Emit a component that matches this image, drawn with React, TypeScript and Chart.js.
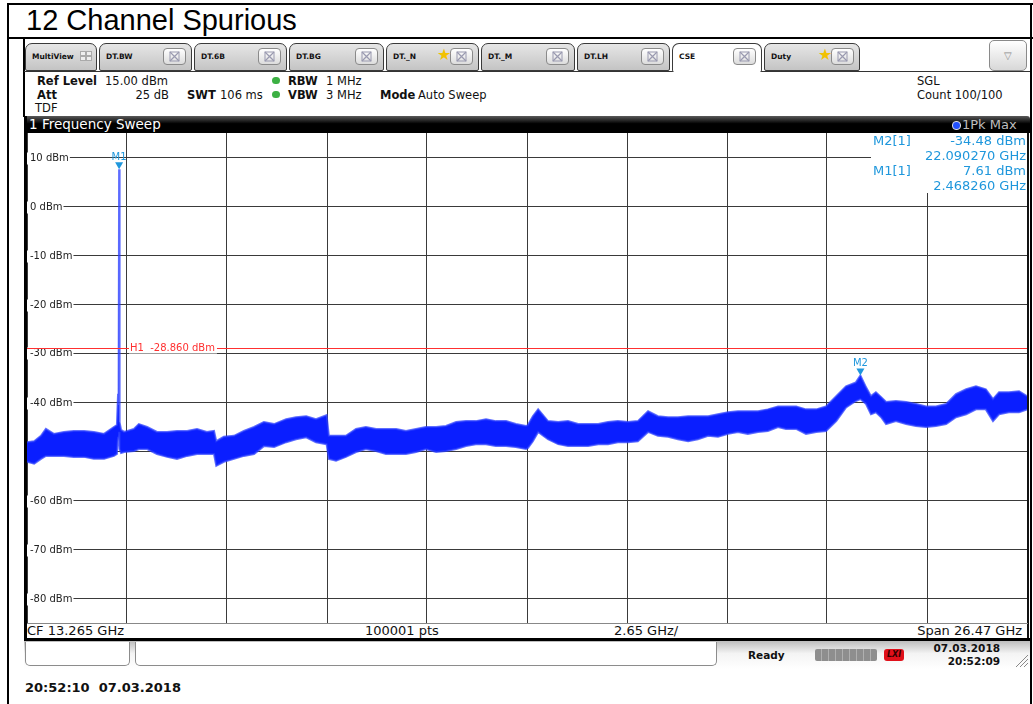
import React, { useEffect, useRef } from 'react';
import { Chart, registerables } from 'chart.js';
Chart.register(...registerables);

// ---------- data ----------
const centerFreqGHz = 13.265;
const spanGHz = 26.47;
const refLevelDbm = 15;
const bottomLevelDbm = -85;
const levelTicksDbm = [10, 0, -10, -20, -30, -40, -50, -60, -70, -80];
const lineH1Dbm = -28.86;
const markerNames = ['M1', 'M2'];
const markerFreqGHz = [2.46826, 22.09027];
const markerLevelDbm = [7.61, -34.48];

const freqGHz = [
  0.03, 0.22, 0.4, 0.53, 0.74, 1.01, 1.27, 1.54, 1.8, 2.07, 2.33, 2.41, 2.44, 2.455, 2.468, 2.481, 2.52,
  2.6, 2.86, 2.99, 3.21, 3.47, 3.74, 4.0, 4.27, 4.53, 4.79, 4.98, 5.04, 5.24, 5.51, 5.77, 6.04, 6.3,
  6.57, 6.89, 7.15, 7.42, 7.68, 7.96, 8.02, 8.21, 8.47, 8.74, 9.0, 9.27, 9.53, 9.8, 10.06, 10.33, 10.59,
  10.86, 11.12, 11.39, 11.65, 11.91, 12.18, 12.44, 12.71, 12.97, 13.24, 13.29, 13.42, 13.56, 13.82,
  14.09, 14.35, 14.62, 14.88, 15.15, 15.41, 15.67, 15.94, 16.2, 16.47, 16.73, 17.0, 17.26, 17.53, 17.79,
  18.06, 18.32, 18.59, 18.85, 19.11, 19.38, 19.64, 19.91, 20.12, 20.39, 20.65, 20.92, 21.18, 21.45,
  21.71, 21.97, 22.09, 22.24, 22.37, 22.5, 22.64, 22.77, 23.03, 23.3, 23.56, 23.83, 24.09, 24.36, 24.62,
  24.89, 25.15, 25.41, 25.6, 25.76, 26.02, 26.29, 26.5,
];
const maxDbm = [
  -48.1, -47.9, -46.8, -45.4, -46.4, -46.0, -45.8, -45.8, -46.0, -46.4, -45.0, -44.6, -38.2, -40.5, 7.61, -44.0, -45.6,
  -46.0, -45.4, -44.4, -45.0, -46.0, -46.0, -45.8, -45.8, -45.4, -46.0, -45.8, -47.9, -47.0, -46.8, -45.8, -45.0, -44.0,
  -44.4, -43.4, -43.0, -42.8, -43.4, -42.6, -46.8, -46.8, -46.8, -45.4, -45.0, -45.4, -45.4, -45.4, -45.8, -45.4, -45.0,
  -45.0, -44.8, -44.0, -43.8, -43.8, -43.4, -43.8, -43.8, -44.4, -44.8, -44.6, -42.8, -41.4, -43.8,
  -44.0, -43.8, -44.4, -44.4, -44.4, -44.0, -43.8, -44.0, -43.8, -41.8, -42.8, -43.0, -43.0, -42.8, -42.8,
  -42.8, -42.4, -42.0, -41.8, -41.8, -41.8, -41.4, -40.8, -40.8, -40.8, -41.4, -41.4, -40.8, -38.7,
  -36.7, -35.9, -34.48, -36.9, -38.7, -37.9, -38.9, -39.9, -39.7, -39.9, -40.3, -40.8, -40.8, -40.3, -38.3,
  -37.3, -36.7, -37.3, -39.3, -37.9, -37.9, -37.7, -38.7,
];
const minDbm = [
  -52.1, -52.5, -51.5, -50.9, -50.9, -50.9, -51.1, -51.1, -51.5, -51.5, -50.9, -50.5, -47.0, -48.0, -46.0, -49.5, -50.3,
  -50.1, -49.9, -49.5, -49.5, -50.5, -51.1, -51.5, -50.9, -50.5, -50.5, -50.5, -52.9, -52.1, -51.5, -50.9, -50.5, -48.9,
  -49.1, -48.1, -47.5, -47.1, -48.1, -48.5, -51.5, -51.9, -51.1, -50.1, -49.5, -49.9, -50.5, -50.5, -50.5, -50.1, -49.5,
  -50.1, -49.9, -49.5, -48.9, -48.5, -48.5, -48.9, -48.9, -49.1, -49.5, -49.3, -47.9, -46.0, -47.5,
  -48.5, -48.9, -48.9, -48.9, -48.5, -48.5, -48.1, -48.1, -47.9, -46.0, -46.8, -47.0, -47.5, -47.9, -47.5,
  -46.8, -47.0, -46.4, -46.0, -46.4, -46.0, -45.8, -45.0, -45.4, -45.4, -46.4, -46.0, -45.8, -43.8,
  -41.0, -39.7, -39.3, -40.3, -42.4, -42.0, -43.0, -44.4, -43.8, -44.4, -44.8, -45.0, -44.8, -44.4, -43.0,
  -42.4, -41.4, -41.4, -43.8, -42.4, -42.0, -42.0, -41.4,
];

const tabLabels = ['MultiView', 'DT.BW', 'DT.6B', 'DT.BG', 'DT._N', 'DT._M', 'DT.LH', 'CSE', 'Duty'];

// ---------- styling ----------
const TRACE = 'rgb(10,30,255)';
const TRACE_EDGE = 'rgba(40,60,255,0.75)';
const GRID = '#3a3a3a';
const MARK = '#1f97dc';
const H1RED = '#ff3030';
const UI = '"DejaVu Sans", Verdana, sans-serif';

const startF = centerFreqGHz - spanGHz / 2;
const stopF = centerFreqGHz + spanGHz / 2;

const overlay = {
  id: 'saOverlay',
  beforeDatasetsDraw(chart: any) {
    const { ctx, scales } = chart;
    const y = scales.y;
    ctx.save();
    ctx.font = `10px ${UI}`;
    ctx.textBaseline = 'middle';
    levelTicksDbm.forEach((v) => {
      const py = Math.round(y.getPixelForValue(v)) + 0.5;
      const t = `${v} dBm`;
      const w = ctx.measureText(t).width;
      ctx.fillStyle = '#fff';
      ctx.fillRect(0, py - 6, w + 4, 12);
      ctx.fillStyle = '#222';
      ctx.fillText(t, 3, py);
    });
    ctx.restore();
  },
  afterDatasetsDraw(chart: any) {
    const { ctx, scales, chartArea } = chart;
    const x = scales.x;
    const y = scales.y;
    ctx.save();
    const hy = Math.round(y.getPixelForValue(lineH1Dbm)) + 0.5;
    ctx.strokeStyle = H1RED;
    ctx.lineWidth = 1;
    ctx.beginPath();
    ctx.moveTo(chartArea.left, hy);
    ctx.lineTo(chartArea.right, hy);
    ctx.stroke();
    ctx.font = `10px ${UI}`;
    ctx.textBaseline = 'middle';
    const lbl = `H1  ${lineH1Dbm.toFixed(3)} dBm`;
    const lw = ctx.measureText(lbl).width;
    ctx.fillStyle = '#fff';
    ctx.fillRect(102, hy - 5, lw + 3, 10);
    ctx.fillStyle = H1RED;
    ctx.fillText(lbl, 103, hy);
    markerNames.forEach((n, i) => {
      const px = x.getPixelForValue(markerFreqGHz[i]);
      const py = y.getPixelForValue(markerLevelDbm[i]);
      ctx.fillStyle = MARK;
      ctx.beginPath();
      ctx.moveTo(px - 4, py - 7);
      ctx.lineTo(px + 4, py - 7);
      ctx.lineTo(px, py);
      ctx.closePath();
      ctx.fill();
      ctx.font = `10px ${UI}`;
      ctx.textAlign = 'center';
      ctx.textBaseline = 'alphabetic';
      ctx.fillText(n, px, py - 9);
    });
    ctx.restore();
  },
};

function SpectrumChart() {
  const ref = useRef<HTMLCanvasElement>(null);
  useEffect(() => {
    if (!ref.current) return;
    const hi = freqGHz.map((f, i) => ({ x: f, y: maxDbm[i] }));
    const lo = freqGHz.map((f, i) => ({ x: f, y: minDbm[i] }));
    const xTicks = Array.from({ length: 11 }, (_, i) => startF + (i * spanGHz) / 10);
    const chart = new Chart(ref.current, {
      type: 'line',
      data: {
        datasets: [
          { data: hi, borderColor: TRACE_EDGE, borderWidth: 2, pointRadius: 0, fill: false, tension: 0 },
          { data: lo, borderColor: TRACE_EDGE, borderWidth: 2, pointRadius: 0, fill: '-1', backgroundColor: TRACE, tension: 0 },
        ],
      } as any,
      options: {
        animation: false,
        responsive: false,
        maintainAspectRatio: false,
        layout: { padding: 0 },
        plugins: { legend: { display: false }, tooltip: { enabled: false } },
        scales: {
          x: {
            type: 'linear',
            min: startF,
            max: stopF,
            afterBuildTicks: (s: any) => {
              s.ticks = xTicks.map((v) => ({ value: v }));
            },
            ticks: { display: false },
            grid: { color: GRID, lineWidth: 1, drawTicks: false },
            border: { display: false },
          },
          y: {
            type: 'linear',
            min: bottomLevelDbm,
            max: refLevelDbm,
            afterBuildTicks: (s: any) => {
              s.ticks = levelTicksDbm.map((v) => ({ value: v }));
            },
            ticks: { display: false },
            grid: { color: GRID, lineWidth: 1, drawTicks: false },
            border: { display: false },
          },
        },
      } as any,
      plugins: [overlay],
    });
    return () => chart.destroy();
  }, []);
  return <canvas ref={ref} width={1000} height={490} style={{ position: 'absolute', left: 27, top: 133, width: 1000, height: 490 }} />;
}

const abs = (s: React.CSSProperties): React.CSSProperties => ({ position: 'absolute', ...s });

function CloseBox({ right }: { right: number }) {
  return (
    <div style={abs({ right, top: 4, width: 21, height: 15, border: '1px solid #8a8a8a', borderRadius: 4, background: 'linear-gradient(#ffffff,#dcdcdc)' })}>
      <svg width="21" height="15" style={{ display: 'block' }}>
        <rect x="6" y="3" width="9" height="9" fill="none" stroke="#9a9ab0" strokeWidth="1" />
        <path d="M6 3 L15 12 M15 3 L6 12" stroke="#9a9ab0" strokeWidth="1.2" />
      </svg>
    </div>
  );
}

function Tabs() {
  const lefts = [25, 99, 194, 289, 386, 481, 577, 672, 764];
  const widths = [74, 95, 95, 97, 95, 96, 95, 92, 98];
  return (
    <>
      <div style={abs({ left: 24, top: 71, width: 1006, height: 1, background: '#333' })} />
      {tabLabels.map((t, i) => {
        const active = t === 'CSE';
        const star = t === 'DT._N' || t === 'Duty';
        return (
          <div
            key={t}
            style={abs({
              left: lefts[i],
              top: 43,
              width: widths[i] - 2,
              height: active ? 29 : 28,
              border: '1px solid #3a3a3a',
              borderBottom: active ? 'none' : '1px solid #3a3a3a',
              borderRadius: '7px 7px 2px 2px',
              background: active ? '#fff' : 'linear-gradient(#e6e6e6,#c4c4c4)',
              boxSizing: 'border-box',
            })}
          >
            <div style={abs({ left: 6, top: 8, font: `bold 7.5px ${UI}`, color: '#111', whiteSpace: 'nowrap' })}>{t}</div>
            {i === 0 ? (
              <svg width="12" height="10" style={{ position: 'absolute', right: 4, top: 7 }}>
                <rect x="0.5" y="0.5" width="5" height="4" fill="#eee" stroke="#aaa" />
                <rect x="6.5" y="0.5" width="5" height="4" fill="#eee" stroke="#aaa" />
                <rect x="0.5" y="5.5" width="5" height="4" fill="#eee" stroke="#aaa" />
                <rect x="6.5" y="5.5" width="5" height="4" fill="#eee" stroke="#aaa" />
              </svg>
            ) : (
              <CloseBox right={5} />
            )}
            {star && <div style={abs({ right: 27, top: 1, fontSize: 16, color: '#f2c100', lineHeight: '20px' })}>★</div>}
          </div>
        );
      })}
      <div style={abs({ left: 989, top: 40, width: 38, height: 31, border: '1px solid #8a8a8a', borderRadius: 5, boxSizing: 'border-box', background: 'linear-gradient(#ffffff,#d8d8d8)', textAlign: 'center', color: '#888', fontSize: 10, lineHeight: '29px' })}>▽</div>
    </>
  );
}

function T({ x, y, children, bold, size = 11.5, color = '#111', right }: any) {
  const st: React.CSSProperties = abs({ top: y - 8, font: `${bold ? 'bold ' : ''}${size}px ${UI}`, color, whiteSpace: 'pre', lineHeight: '16px' });
  if (right !== undefined) st.right = 1033 - right;
  else st.left = x;
  return <div style={st}>{children}</div>;
}

export default function App() {
  return (
    <div style={{ position: 'relative', width: 1033, height: 704, background: '#fff', overflow: 'hidden' }}>
      <style>{`body{margin:0}`}</style>
      <div style={abs({ left: 7, top: 3, width: 2, height: 704, background: '#000' })} />
      <div style={abs({ left: 7, top: 3, width: 1026, height: 2, background: '#000' })} />
      <div style={abs({ left: 7, top: 37, width: 1026, height: 2, background: '#000' })} />
      <div style={abs({ left: 1030, top: 3, width: 2, height: 704, background: '#000' })} />
      <div style={abs({ left: 26, top: 2, font: `29px "Liberation Sans", Arial, sans-serif`, color: '#000', lineHeight: '36px' })}>12 Channel Spurious</div>
      <div style={abs({ left: 23, top: 39, width: 2, height: 78, background: '#000' })} />

      <Tabs />

      <T x={37} y={81} bold>Ref Level</T>
      <T x={105} y={81}>15.00 dBm</T>
      <T x={37} y={95} bold>Att</T>
      <T right={169} y={95}>25 dB</T>
      <T x={187} y={95} bold>SWT</T>
      <T x={220} y={95}>106 ms</T>
      <div style={abs({ left: 272, top: 77, width: 8, height: 7, borderRadius: 4, background: '#3cb043' })} />
      <div style={abs({ left: 272, top: 91, width: 8, height: 7, borderRadius: 4, background: '#3cb043' })} />
      <T x={288} y={81} bold>RBW</T>
      <T x={326} y={81}>1 MHz</T>
      <T x={288} y={95} bold>VBW</T>
      <T x={326} y={95}>3 MHz</T>
      <T x={380} y={95} bold>Mode</T>
      <T x={418} y={95}>Auto Sweep</T>
      <T x={35} y={108}>TDF</T>
      <T x={917} y={81}>SGL</T>
      <T x={917} y={95}>Count 100/100</T>

      <div style={abs({ left: 24, top: 116, width: 1006, height: 17, background: 'linear-gradient(#5a5a5a,#000 45%)', borderRadius: '3px 3px 0 0' })} />
      <div style={abs({ left: 29, top: 116, font: `13.5px ${UI}`, color: '#fff', lineHeight: '17px' })}>1 Frequency Sweep</div>
      <div style={abs({ left: 952, top: 121, width: 7, height: 7, borderRadius: 4, background: '#2250ff', border: '1px solid #ddd' })} />
      <div style={abs({ left: 962, top: 116, font: `13px ${UI}`, color: '#bdbdbd', lineHeight: '17px' })}>1Pk Max</div>

      <div style={abs({ left: 24, top: 116, width: 3, height: 525, background: '#000' })} />
      <SpectrumChart />
      <div style={abs({ left: 1027, top: 133, width: 2, height: 508, background: '#111' })} />
      <div style={abs({ left: 871, top: 133, width: 156, height: 60, background: '#fff' })} />
      <T x={873} y={141} size={13} color={MARK}>M2[1]</T>
      <T right={1026} y={141} size={13} color={MARK}>-34.48 dBm</T>
      <T right={1026} y={156} size={13} color={MARK}>22.090270 GHz</T>
      <T x={873} y={171} size={13} color={MARK}>M1[1]</T>
      <T right={1026} y={171} size={13} color={MARK}>7.61 dBm</T>
      <T right={1026} y={186} size={13} color={MARK}>2.468260 GHz</T>

      <div style={abs({ left: 27, top: 623, width: 1001, height: 1, background: '#888' })} />
      <T x={27} y={631} size={13}>CF 13.265 GHz</T>
      <T x={365} y={631} size={13}>100001 pts</T>
      <T x={614} y={631} size={13}>2.65 GHz/</T>
      <T right={1022} y={631} size={13}>Span 26.47 GHz</T>
      <div style={abs({ left: 24, top: 638, width: 1006, height: 3, background: '#000' })} />

      <div style={abs({ left: 24, top: 641, width: 1006, height: 28, background: 'linear-gradient(#bdbdbd,#f4f4f4 45%,#ffffff)' })} />
      <div style={abs({ left: 25, top: 642, width: 105, height: 24, border: '1px solid #8c8c8c', borderTop: 'none', borderRadius: '0 0 5px 5px', background: '#fff', boxSizing: 'border-box' })} />
      <div style={abs({ left: 135, top: 642, width: 582, height: 24, border: '1px solid #8c8c8c', borderTop: 'none', borderRadius: '0 0 5px 5px', background: '#fff', boxSizing: 'border-box' })} />
      <T x={748} y={655} bold size={10.5}>Ready</T>
      <div style={abs({ left: 815, top: 649, width: 62, height: 12, background: 'repeating-linear-gradient(90deg,#8e8e8e 0 6px,#b0b0b0 6px 7px)', borderRadius: 2 })} />
      <div style={abs({ left: 884, top: 649, width: 20, height: 12, background: '#e0101a', borderRadius: 3, font: `italic bold 8px ${UI}`, color: '#300', textAlign: 'center', lineHeight: '12px' })}>LXI</div>
      <T right={1000} y={648} bold size={10.5}>07.03.2018</T>
      <T right={1000} y={661} bold size={10.5}>20:52:09</T>
      <svg width="16" height="16" style={{ position: 'absolute', left: 1013, top: 652 }}>
        <path d="M15 3 L3 15 M15 7 L7 15 M15 11 L11 15" stroke="#888" strokeWidth="1" />
      </svg>

      <T x={25} y={688} bold size={13}>{'20:52:10  07.03.2018'}</T>
    </div>
  );
}
